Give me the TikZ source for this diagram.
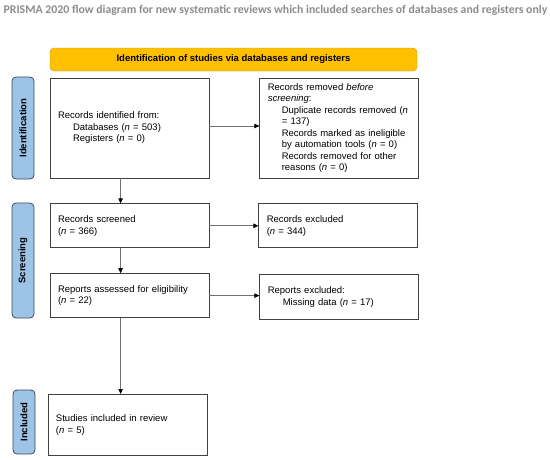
\documentclass[tikz,border=0pt]{standalone}
\usepackage{fontspec}
\setmainfont{Liberation Sans}
\newfontfamily\titlefont{Carlito}
\usetikzlibrary{positioning,arrows.meta}
\definecolor{titlegrey}{HTML}{8C8C8C}
\definecolor{bannerfill}{HTML}{FFC000}
\definecolor{bannerline}{HTML}{C99A2E}
\definecolor{lanefill}{HTML}{9DC3E6}
\definecolor{laneline}{HTML}{3A4A5E}
\definecolor{boxline}{HTML}{404040}
\definecolor{arrowline}{HTML}{707070}

\begin{document}
\begin{tikzpicture}
	[x=1pt,y=-1pt,>={Triangle[length=5pt,width=4.5pt,color=black]},
	 node distance=25pt,font=\fontsize{9.5}{11.5}\selectfont]
	\tikzstyle{box}=[draw=boxline,line width=0.8pt,text width=143pt,inner xsep=8pt,inner ysep=2pt,align=left,minimum height=44pt]
	\tikzstyle{lane}=[draw=laneline,fill=lanefill,line width=0.8pt,rounded corners=4pt,rotate=90,minimum height=22pt,inner sep=0pt,font=\fontsize{9.5}{11.5}\selectfont\bfseries]
	\tikzstyle{link}=[->,draw=arrowline,line width=0.7pt]

	\useasboundingbox (0,0) rectangle (550,459);

	\node (title) at (275.5,10.5) {\titlefont\bfseries\fontsize{11.8}{13}\selectfont\color{titlegrey}PRISMA 2020 flow diagram for new systematic reviews which included searches of databases and registers only};
	\node[draw=bannerline,fill=bannerfill,rounded corners=4pt,minimum width=367pt,minimum height=23pt,inner sep=0pt,font=\fontsize{9.5}{11.5}\selectfont\bfseries] (banner) at (233.5,59.5) {Identification of studies via databases and registers};

	\node[lane,minimum width=102pt] (idlane)   at (23,128)   {Identification};
	\node[lane,minimum width=115pt] (scrlane)  at (23,260.5) {Screening};
	\node[lane,minimum width=64pt]  (incllane) at (24,422)   {Included};

	\node[box,minimum height=100pt] (id) at (129.5,128) {Records identified from:\\
		\hspace*{15pt}Databases (\textit{n} = 503)\\
		\hspace*{15pt}Registers (\textit{n} = 0)};
	\node[box,minimum height=100pt] (rem) [right=50pt of id] {Records removed \textit{before}\\
		\textit{screening}:\\
		\hspace*{14pt}Duplicate records removed (\textit{n}\\
		\hspace*{14pt}= 137)\\
		\hspace*{14pt}Records marked as ineligible\\
		\hspace*{14pt}by automation tools (\textit{n} = 0)\\
		\hspace*{14pt}Records removed for other\\
		\hspace*{14pt}reasons (\textit{n} = 0)};
	\node[box] (scr)  [below=of id]        {Records screened\\(\textit{n} = 366)};
	\node[box] (exc)  [right=49pt of scr]  {Records excluded\\(\textit{n} = 344)};
	\node[box] (elig) [below=of scr]       {Reports assessed for eligibility\\(\textit{n} = 22)};
	\node[box,minimum height=45pt] (rexc) [right=50pt of elig,yshift=-1.5pt] {Reports excluded:\\
		\hspace*{15pt}Missing data (\textit{n} = 17)};
	\node[box,minimum height=61pt] (incl) [below=76pt of elig,xshift=-2pt] {Studies included in review\\(\textit{n} = 5)};

	\draw[link] ([xshift=71pt]id.south west) -- ([xshift=71pt]scr.north west);
	\draw[link] ([xshift=71pt]scr.south west) -- ([xshift=71pt]elig.north west);
	\draw[link] ([xshift=71pt]elig.south west) -- ([xshift=71pt]elig.south west |- incl.north);
	\draw[link] ([yshift=2pt]id.east) -- ([yshift=2pt]id.east -| rem.west);
	\draw[link] (scr) -- (exc);
	\draw[link] (elig.east) -- (elig.east -| rexc.west);
\end{tikzpicture}
\end{document}
